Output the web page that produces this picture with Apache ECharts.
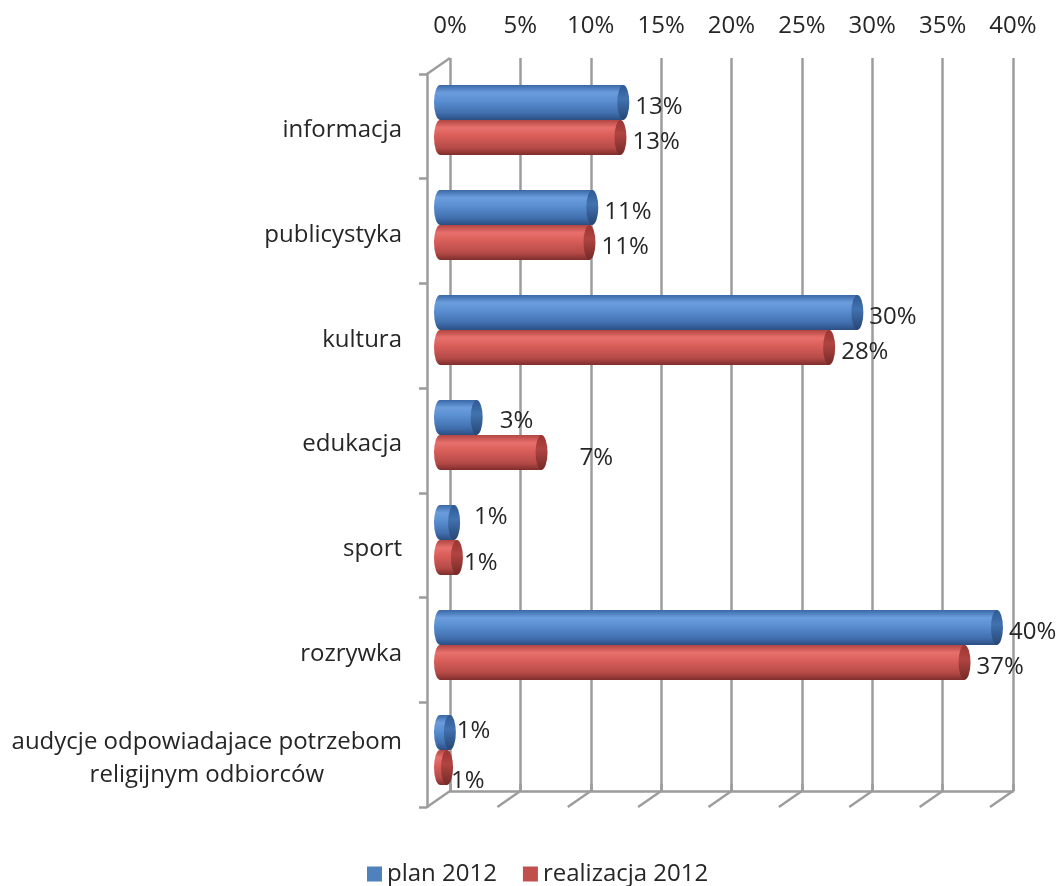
<!DOCTYPE html>
<html>
<head>
<meta charset="utf-8">
<script src="https://cdn.jsdelivr.net/npm/echarts@6/dist/echarts.min.js"></script>
<style>
html,body{margin:0;padding:0;background:#fff;}
#chart{width:1059px;height:886px;}
</style>
</head>
<body>
<div id="chart"></div>
<script>
const categories = ['informacja', 'publicystyka', 'kultura', 'edukacja', 'sport', 'rozrywka', 'audycje odpowiadajace potrzebom\nreligijnym odbiorców'];
const seriesNames = ['plan 2012', 'realizacja 2012'];
const planValues = [13.0, 10.8, 29.6, 2.6, 1.0, 39.5, 0.7];
const realizacjaValues = [12.8, 10.6, 27.6, 7.2, 1.2, 37.2, 0.5];
const xTicks = [0, 5, 10, 15, 20, 25, 30, 35, 40];

// ---- styling ----
const FONT = 'Open Sans';
const FS = 24;
const TEXT = '#262626';
const GRIDC = '#9c9c9c';
const DX = 23, DY = 16;
const BARW = 35, CAPW = 12;
const LABEL_DY = 5;
// extra nudges of a few data labels (by category index), as placed in the original
const planLabelNudge = {3: [11, -1], 4: [8, -10], 6: [-5, -6]};
const realLabelNudge = {3: [26, 1], 4: [-5, 1], 6: [-8, 9]};

function vgrad(stops) {
  return new echarts.graphic.LinearGradient(0, 0, 0, 1, stops.map(c => ({offset: c[0], color: c[1]})));
}
const blueBody = vgrad([[0, '#3a68a6'], [0.22, '#6b9ddd'], [0.45, '#5a8fd2'], [0.8, '#416fae'], [1, '#2b4e82']]);
const redBody = vgrad([[0, '#b04542'], [0.22, '#e8706c'], [0.45, '#d95e5a'], [0.8, '#b54a47'], [1, '#7e2e2c']]);
const blueCap = vgrad([[0, '#2f5a94'], [0.4, '#4272b0'], [1, '#264673']]);
const redCap = vgrad([[0, '#9a3533'], [0.4, '#b04441'], [1, '#742a28']]);

const lineStyle = {color: GRIDC, width: 2.5};

function barSeries(name, values, body, nudge) {
  return {
    type: 'bar', name: name, xAxisIndex: 1, yAxisIndex: 1,
    data: values.map((v, i) => nudge[i]
      ? {value: v, label: {offset: [nudge[i][0], LABEL_DY + nudge[i][1]]}}
      : v),
    barWidth: BARW, barGap: '0%', z: 3,
    itemStyle: {color: body},
    label: {
      show: true, position: 'right', distance: 12, offset: [0, LABEL_DY],
      formatter: p => Math.round(p.value) + '%',
      fontSize: FS, fontFamily: FONT, color: TEXT
    }
  };
}

// ellipses at the start (under the bars) or end (over the bars) of every cylinder
function capSeries(atEnd, z) {
  return {
    type: 'custom', xAxisIndex: 1, yAxisIndex: 1, silent: true, z: z,
    data: categories.map((c, i) => [i, planValues[i], realizacjaValues[i]]),
    encode: {y: 0, x: [1, 2]},
    renderItem: function (params, api) {
      const idx = api.value(0);
      const kids = [];
      [[api.value(1), -BARW / 2, atEnd ? blueCap : blueBody], [api.value(2), BARW / 2, atEnd ? redCap : redBody]].forEach(d => {
        const p = api.coord([atEnd ? d[0] : 0, idx]);
        kids.push({
          type: 'circle', x: p[0], y: p[1] + d[1], scaleX: CAPW / 2, scaleY: BARW / 2,
          shape: {cx: 0, cy: 0, r: 1}, style: {fill: d[2]}
        });
      });
      return {type: 'group', children: kids};
    }
  };
}

const chart = echarts.init(document.getElementById('chart'), null, {renderer: 'canvas'});
chart.setOption({
  animation: false,
  backgroundColor: '#fff',
  textStyle: {fontFamily: FONT},
  grid: [
    {left: 450, right: 46, top: 58, bottom: 95},
    {left: 440, right: 55, top: 67.5, bottom: 83.5},
    {left: 427, right: 68, top: 74, bottom: 79}
  ],
  xAxis: [
    {
      gridIndex: 0, type: 'value', position: 'top', min: 0, max: 40, interval: 5,
      axisLine: {show: true, lineStyle: lineStyle},
      axisTick: {show: true, length: 7, lineStyle: lineStyle},
      axisLabel: {formatter: '{value}%', margin: 20, fontSize: FS, fontFamily: FONT, color: TEXT},
      splitLine: {show: true, lineStyle: lineStyle}
    },
    {gridIndex: 1, type: 'value', min: 0, max: 40, show: false},
    {gridIndex: 2, type: 'value', min: 0, max: 40, show: false}
  ],
  yAxis: [
    {gridIndex: 0, type: 'value', min: 0, max: 1, show: false},
    {gridIndex: 1, type: 'category', data: categories, inverse: true, show: false},
    {
      gridIndex: 2, type: 'category', data: categories, inverse: true,
      axisLine: {show: true, lineStyle: lineStyle},
      axisTick: {show: true, length: 8, lineStyle: lineStyle},
      splitLine: {show: false},
      axisLabel: {
        margin: 25, fontSize: FS, fontFamily: FONT, color: TEXT, padding: [8, 0, 0, 0],
        formatter: v => v.split('\n').map(l => '{c|' + l + '}').join('\n'),
        rich: {c: {align: 'center', fontSize: FS, fontFamily: FONT, color: TEXT, lineHeight: 33}}
      }
    }
  ],
  legend: {
    top: 857, left: 362, icon: 'rect', itemWidth: 15, itemHeight: 15, itemGap: 26,
    textStyle: {fontSize: FS, fontFamily: FONT, color: TEXT},
    data: [
      {name: seriesNames[0], itemStyle: {color: '#4f81bd'}},
      {name: seriesNames[1], itemStyle: {color: '#c0504d'}}
    ]
  },
  series: [
    {
      type: 'custom', xAxisIndex: 0, yAxisIndex: 0, silent: true, z: 1,
      data: xTicks.map(v => [v]), encode: {x: 0},
      renderItem: function (params, api) {
        const v = api.value(0);
        const b = api.coord([v, 0]);
        const children = [{type: 'line', shape: {x1: b[0], y1: b[1], x2: b[0] - DX, y2: b[1] + DY}, style: {stroke: GRIDC, lineWidth: 2.5}}];
        if (v === 0) {
          const t = api.coord([0, 1]);
          children.push({type: 'line', shape: {x1: t[0], y1: t[1], x2: t[0] - DX, y2: t[1] + DY}, style: {stroke: GRIDC, lineWidth: 2.5}});
        }
        return {type: 'group', children: children};
      }
    },
    capSeries(false, 2),
    barSeries(seriesNames[0], planValues, blueBody, planLabelNudge),
    barSeries(seriesNames[1], realizacjaValues, redBody, realLabelNudge),
    capSeries(true, 4)
  ]
});
</script>
</body>
</html>
